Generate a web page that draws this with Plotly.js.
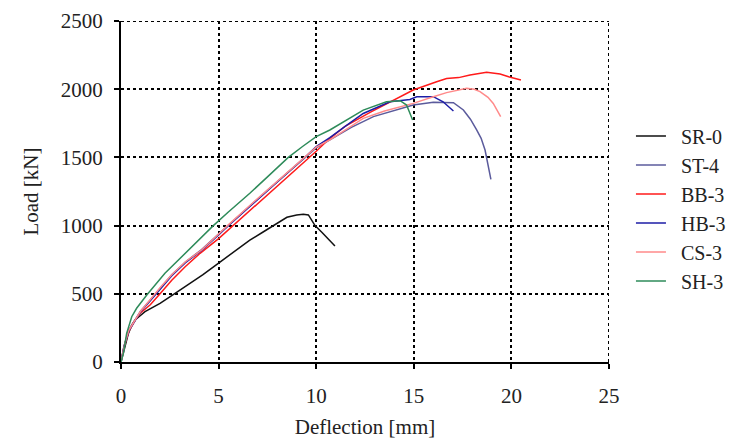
<!DOCTYPE html>
<html>
<head>
<meta charset="utf-8">
<script src="https://cdn.plot.ly/plotly-3.0.1.min.js"></script>
<style>
html,body{margin:0;padding:0;background:#fff}#chart{width:738px;height:440px}
</style>
</head>
<body>
<div id="chart"></div>
<script>
const seriesNames = ["SR-0", "ST-4", "BB-3", "HB-3", "CS-3", "SH-3"];

const sr0X = [0, 0.2, 0.38, 0.55, 0.72, 1.23, 2.0, 2.77, 3.5, 4.2, 5.0, 5.8, 6.6, 7.3, 7.97, 8.5, 9.0, 9.34, 9.6, 9.94, 10.3, 10.96];
const sr0Y = [0, 112, 210, 270, 308, 369, 430, 503, 570, 640, 725, 810, 894, 955, 1017, 1061, 1078, 1083, 1078, 1000, 950, 850];

const st4X = [0, 0.2, 0.4, 0.72, 1.0, 1.4, 2.0, 2.6, 3.3, 4.13, 5.0, 5.5, 6.5, 7.5, 8.5, 9.45, 10, 10.7, 11.8, 12.93, 14.0, 14.97, 16.0, 17.03, 17.54, 17.9, 18.22, 18.45, 18.65, 18.8, 18.95];
const st4Y = [0, 137, 235, 310, 372, 438, 540, 640, 733, 825, 938, 1003, 1133, 1258, 1383, 1503, 1570, 1628, 1720, 1799, 1845, 1884, 1904, 1901, 1848, 1780, 1701, 1640, 1554, 1450, 1339];

const bb3X = [0, 0.15, 0.4, 0.72, 1.0, 1.5, 2.0, 2.6, 3.3, 4.05, 5.0, 5.75, 6.7, 7.7, 8.7, 9.68, 10, 10.7, 11.5, 12.76, 13.78, 14.97, 16.17, 16.68, 17.3, 17.88, 18.73, 19.42, 19.9, 20.49];
const bb3Y = [0, 110, 225, 305, 360, 420, 500, 600, 700, 797, 905, 1000, 1122, 1250, 1377, 1500, 1545, 1640, 1730, 1830, 1908, 1994, 2055, 2079, 2085, 2104, 2124, 2111, 2090, 2067];

const hb3X = [0, 0.15, 0.4, 0.72, 1.0, 1.4, 2.0, 2.6, 3.3, 4.13, 5.0, 5.5, 6.5, 7.5, 8.5, 9.45, 10, 10.7, 11.5, 12.41, 13.78, 14.8, 15.15, 16.0, 16.5, 17.03];
const hb3Y = [0, 115, 228, 308, 368, 432, 535, 632, 728, 818, 932, 1000, 1128, 1255, 1382, 1505, 1580, 1645, 1730, 1822, 1908, 1925, 1945, 1945, 1908, 1840];

const cs3X = [0, 0.1, 0.2, 0.4, 0.72, 1.0, 1.4, 2.0, 2.6, 3.3, 4.13, 5.0, 5.5, 6.5, 7.5, 8.5, 9.45, 10, 10.7, 12.41, 13.5, 14.97, 16.0, 16.68, 17.71, 18.1, 18.39, 18.8, 19.07, 19.45];
const cs3Y = [0, 80, 137, 232, 308, 372, 440, 545, 640, 735, 821, 940, 1005, 1135, 1262, 1388, 1505, 1575, 1628, 1786, 1840, 1896, 1945, 1975, 2006, 2000, 1982, 1940, 1896, 1799];

const sh3X = [0, 0.12, 0.29, 0.55, 0.8, 1.32, 2.25, 3.45, 4.73, 5.5, 6.6, 7.6, 8.57, 9.3, 10, 10.7, 11.4, 12.41, 13.6, 14.3, 14.63, 14.8, 14.94];
const sh3Y = [0, 64, 210, 332, 394, 491, 650, 821, 1000, 1100, 1237, 1370, 1500, 1580, 1652, 1701, 1762, 1847, 1908, 1916, 1884, 1830, 1774];

const xTicks = [0, 5, 10, 15, 20, 25];
const yTicks = [0, 500, 1000, 1500, 2000, 2500];

const seriesX = [sr0X, st4X, bb3X, hb3X, cs3X, sh3X];
const seriesY = [sr0Y, st4Y, bb3Y, hb3Y, cs3Y, sh3Y];
const colors = ["#111111", "#5b5b9c", "#ff1a1a", "#1c1ca6", "#ff8a8a", "#2e8b5a"];

const traces = seriesNames.map((n, i) => ({
  x: seriesX[i], y: seriesY[i], name: "\u00a0\u00a0" + n, type: "scatter", mode: "lines",
  line: {color: colors[i], width: 1.5}, cliponaxis: false
}));

const fam = "Liberation Serif, serif";
function mkFont(sz) { return {family: fam, color: "#222", size: sz}; }

function edge(x0, x1, y0, y1) {
  return {type: "line", layer: "below", xref: "x", yref: "y", x0: x0, x1: x1, y0: y0, y1: y1,
          line: {color: "#000", width: 2, dash: "dot"}};
}

const layout = {
  width: 738, height: 440,
  margin: {l: 121, r: 129, t: 21, b: 78, autoexpand: false},
  paper_bgcolor: "#fff", plot_bgcolor: "#fff",
  font: mkFont(21),
  showlegend: true,
  legend: {x: 1.045, y: 0.72, xanchor: "left", yanchor: "top", font: mkFont(20), tracegroupgap: 0, bgcolor: "rgba(0,0,0,0)"},
  shapes: [edge(0, 25, 2500, 2500), edge(25, 25, 0, 2500)],
  xaxis: {
    range: [0, 25], tickmode: "array", tickvals: xTicks,
    showgrid: true, gridcolor: "#000", griddash: "dot", gridwidth: 2,
    showline: true, linecolor: "#000", linewidth: 2, zeroline: false,
    ticks: "outside", ticklen: 5, tickwidth: 2, tickcolor: "#000",
    tickfont: mkFont(21), automargin: false, ticklabelstandoff: 9,
    title: {text: "Deflection [mm]", font: mkFont(21), standoff: 12}
  },
  yaxis: {
    range: [0, 2500], tickmode: "array", tickvals: yTicks,
    showgrid: true, gridcolor: "#000", griddash: "dot", gridwidth: 2,
    showline: true, linecolor: "#000", linewidth: 2, zeroline: false,
    ticks: "outside", ticklen: 5, tickwidth: 2, tickcolor: "#000",
    tickfont: mkFont(21), automargin: false, ticklabelstandoff: 7,
    title: {text: "Load [kN]", font: mkFont(21), standoff: 16}
  }
};

Plotly.newPlot("chart", traces, layout, {displayModeBar: false, staticPlot: true});
</script>
</body>
</html>
